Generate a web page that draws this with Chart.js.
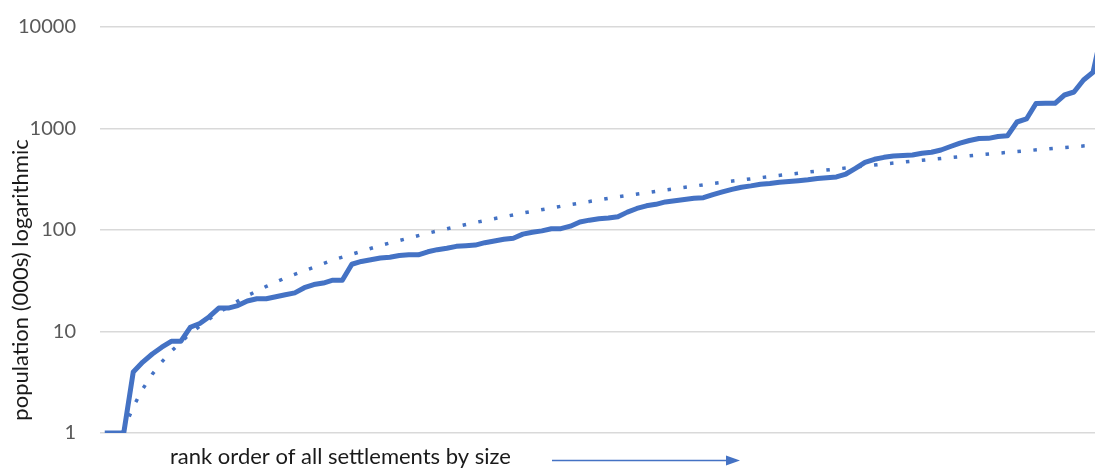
<!DOCTYPE html>
<html>
<head>
<meta charset="utf-8">
<script src="https://cdn.jsdelivr.net/npm/chart.js@4.4.1/dist/chart.umd.min.js"></script>
<style>
  html, body { margin: 0; padding: 0; background: #ffffff; overflow: hidden; }
  canvas { display: block; }
</style>
</head>
<body>
<canvas id="chart" width="1095" height="468"></canvas>
<script>
// Settlements ranked from smallest to largest
const ranks = [
  1, 2, 3, 4, 5, 6, 7, 8, 9, 10, 11, 12, 13, 14, 15, 16, 17, 18, 19, 20,
  21, 22, 23, 24, 25, 26, 27, 28, 29, 30, 31, 32, 33, 34, 35, 36, 37, 38, 39, 40,
  41, 42, 43, 44, 45, 46, 47, 48, 49, 50, 51, 52, 53, 54, 55, 56, 57, 58, 59, 60,
  61, 62, 63, 64, 65, 66, 67, 68, 69, 70, 71, 72, 73, 74, 75, 76, 77, 78, 79, 80,
  81, 82, 83, 84, 85, 86, 87, 88, 89, 90, 91, 92, 93, 94, 95, 96, 97, 98, 99, 100,
  101, 102, 103, 104, 105, 106
];

// Population in thousands, one value per rank
const population = [
  1, 1, 1, 4, 5, 6, 7, 8, 8, 11, 12, 14, 17, 17, 18, 20, 21, 21, 22, 23,
  24, 27, 29, 30, 32, 32, 46, 49, 51, 53, 54, 56, 57, 57, 61, 64, 66, 69, 70, 71,
  75, 78, 81, 83, 91, 95, 98, 103, 103, 109, 120, 125, 129, 131, 135, 150, 163, 173, 179, 189,
  194, 200, 205, 208, 223, 237, 251, 264, 272, 282, 287, 295, 300, 306, 313, 322, 328, 333, 356, 404,
  464, 497, 520, 536, 541, 548, 570, 583, 614, 665, 719, 762, 796, 800, 834, 849, 1159, 1241, 1764, 1770,
  1772, 2138, 2289, 3006, 3580, 9500
];

// Power trend line (dotted)
const trendRanks = [2, 3, 4, 5, 6, 7, 8, 10, 12, 14, 16, 18, 20, 25, 30, 35, 40, 45, 50, 55,
  60, 65, 70, 75, 80, 85, 90, 95, 100, 105, 106];
const trendValues = [0.515, 1.075, 1.81, 2.72, 3.79, 5.01, 6.38, 9.57, 13.3, 17.6, 22.5, 27.8, 33.7, 50.5, 70.4, 93.1,
  118.7, 147, 178, 212, 248, 287, 328, 372, 418, 467, 517, 571, 627, 685, 697];

const yTicks = [1, 10, 100, 1000, 10000];

const yTitle = 'population (000s) logarithmic';
const xTitle = 'rank order of all settlements by size';

const BLUE = '#4472C4';
const FONT = 'Lato, "Open Sans", sans-serif';

const titles = {
  id: 'titles',
  afterDraw(chart) {
    const ctx = chart.ctx;
    ctx.save();
    ctx.fillStyle = '#1a1a1a';
    ctx.font = '22px ' + FONT;
    ctx.textAlign = 'center';
    ctx.textBaseline = 'middle';
    ctx.translate(21, 280);
    ctx.rotate(-Math.PI / 2);
    ctx.fillText(yTitle, 0, 0);
    ctx.restore();

    ctx.save();
    ctx.fillStyle = '#1a1a1a';
    ctx.font = '22px ' + FONT;
    ctx.textAlign = 'left';
    ctx.textBaseline = 'middle';
    ctx.fillText(xTitle, 170, 457);

    // arrow pointing towards larger settlements
    ctx.strokeStyle = BLUE;
    ctx.fillStyle = BLUE;
    ctx.lineWidth = 1.5;
    ctx.beginPath();
    ctx.moveTo(552, 460.5);
    ctx.lineTo(728, 460.5);
    ctx.stroke();
    ctx.beginPath();
    ctx.moveTo(726, 455.5);
    ctx.lineTo(740, 460.5);
    ctx.lineTo(726, 465.5);
    ctx.closePath();
    ctx.fill();
    ctx.restore();
  }
};

new Chart(document.getElementById('chart'), {
  type: 'line',
  data: {
    datasets: [
      {
        label: 'trend',
        data: trendRanks.map((r, k) => ({ x: r, y: trendValues[k] })),
        borderColor: BLUE,
        borderWidth: 3.5,
        borderDash: [3.5, 12.5],
        borderCapStyle: 'butt',
        pointRadius: 0,
        tension: 0,
        fill: false
      },
      {
        label: 'population',
        data: ranks.map((r, k) => ({ x: r, y: population[k] })),
        borderColor: BLUE,
        borderWidth: 5,
        borderJoinStyle: 'round',
        borderCapStyle: 'butt',
        pointRadius: 0,
        tension: 0,
        fill: false
      }
    ]
  },
  options: {
    responsive: false,
    animation: false,
    devicePixelRatio: 1,
    layout: { padding: { left: 0, right: 0, top: 27, bottom: 35 } },
    plugins: {
      legend: { display: false },
      tooltip: { enabled: false },
      title: { display: false }
    },
    scales: {
      x: {
        type: 'linear',
        min: 0.5,
        max: 105.21,
        display: false
      },
      y: {
        type: 'logarithmic',
        min: 1,
        max: 10000,
        afterBuildTicks(scale) {
          scale.ticks = yTicks.map(v => ({ value: v }));
        },
        afterFit(scale) {
          scale.width = 100;
          scale.paddingTop = 0;
          scale.paddingBottom = 0;
        },
        border: { display: false },
        grid: {
          color: '#d9d9d9',
          lineWidth: 1.5,
          drawTicks: false
        },
        ticks: {
          padding: 24,
          color: '#595959',
          font: { family: FONT, size: 20 },
          callback: v => String(v)
        }
      }
    }
  },
  plugins: [titles]
});
</script>
</body>
</html>
